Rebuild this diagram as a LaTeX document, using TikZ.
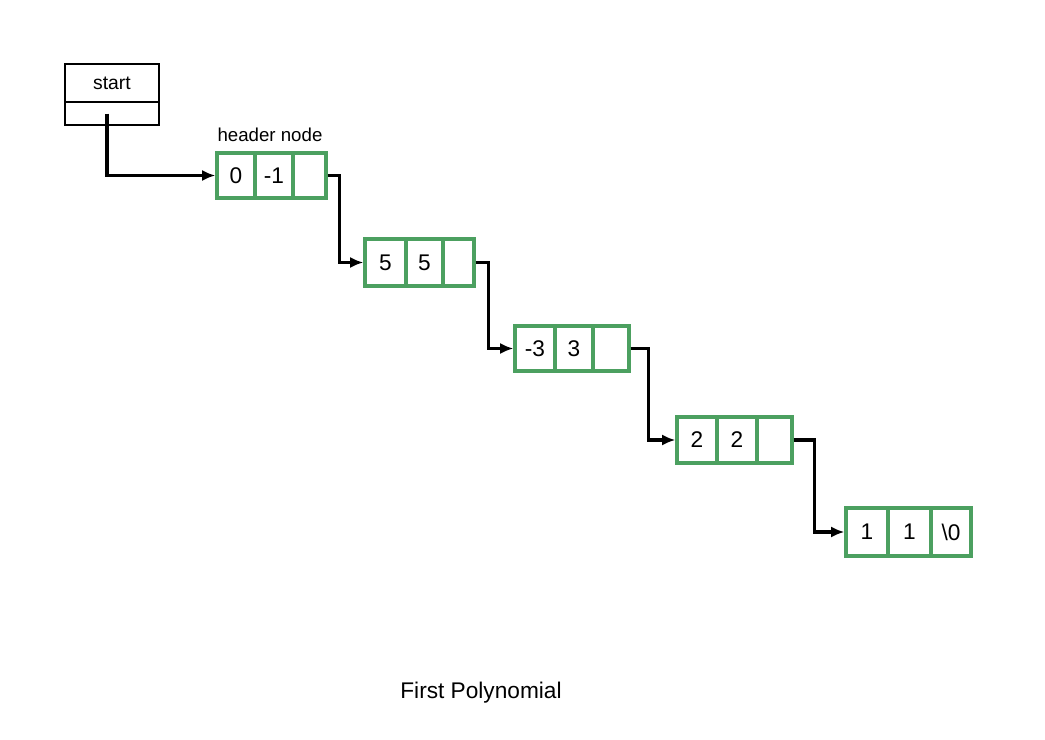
\documentclass[tikz,border=0pt]{standalone}
\usepackage{fontspec}
\setmainfont{Liberation Sans}
\usetikzlibrary{arrows.meta}
\definecolor{boxgreen}{RGB}{76,160,96}
\begin{document}
\begin{tikzpicture}[x=0.75pt,y=-0.75pt,
  cell/.style={draw=boxgreen,line width=2.5pt,inner sep=0pt,font=\fontsize{17}{19}\selectfont},
  sbox/.style={draw=black,line width=2.2pt,inner sep=0pt},
  link/.style={draw=black,line width=2.6pt,-{Latex[length=10pt,width=8.5pt]}},
  lbl/.style={font=\fontsize{14}{16}\selectfont}]
\useasboundingbox (0,0) rectangle (1045,739);
% start box
\node[sbox,minimum width=70.5pt,minimum height=28.5pt,font=\fontsize{14.5}{16}\selectfont] (st) at (112,83) {start};
\node[sbox,minimum width=70.5pt,minimum height=17.25pt] (sp) at (112,113.5) {};
\node[lbl] (hl) at (270,135) {header node};
% header node
\node[cell,minimum width=28.5pt,minimum height=33.75pt] (h0) at (236,175.5) {0};
\node[cell,minimum width=28.5pt,minimum height=33.75pt] (h1) at (274,175.5) {-1};
\node[cell,minimum width=24.75pt,minimum height=33.75pt] (h2) at (309.5,175.5) {};
% node 2
\node[cell,minimum width=30.75pt,minimum height=35.25pt] (n0) at (385.5,262.5) {5};
\node[cell,minimum width=27.75pt,minimum height=35.25pt] (n1) at (424.5,262.5) {5};
\node[cell,minimum width=23.25pt,minimum height=35.25pt] (n2) at (458.5,262.5) {};
% node 3
\node[cell,minimum width=30pt,minimum height=33.75pt] (m0) at (535,348.5) {-3};
\node[cell,minimum width=28.5pt,minimum height=33.75pt] (m1) at (574,348.5) {3};
\node[cell,minimum width=27pt,minimum height=33.75pt] (m2) at (611,348.5) {};
% node 4
\node[cell,minimum width=30pt,minimum height=34.5pt] (p0) at (697,440) {2};
\node[cell,minimum width=30pt,minimum height=34.5pt] (p1) at (737,440) {2};
\node[cell,minimum width=26.25pt,minimum height=34.5pt] (p2) at (774.5,440) {};
% node 5
\node[cell,minimum width=31.5pt,minimum height=36pt] (q0) at (867,532) {1};
\node[cell,minimum width=32.25pt,minimum height=36pt] (q1) at (909.5,532) {1};
\node[cell,minimum width=30pt,minimum height=36pt] (q2) at (951,532) {\textbackslash 0};
% caption
\node[font=\fontsize{17}{19}\selectfont] (cap) at (481,693) {First Polynomial};
% links
\draw[link] ([xshift=-3.75pt]sp.center) |- (h0.west);
\draw[link] (h2.east) -- ++(12,0) |- (n0.west);
\draw[link] (n2.east) -- ++(13,0) |- (m0.west);
\draw[link] (m2.east) -- ++(18,0) |- (p0.west);
\draw[link] (p2.east) -- ++(21,0) |- (q0.west);
\end{tikzpicture}
\end{document}
